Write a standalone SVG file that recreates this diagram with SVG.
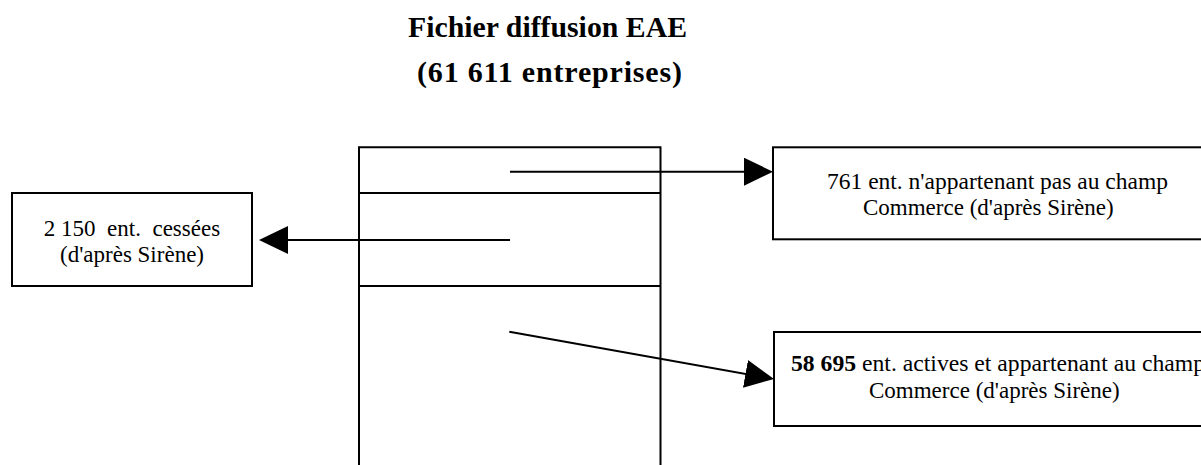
<svg xmlns="http://www.w3.org/2000/svg" width="1201" height="465" viewBox="0 0 1201 465">
  <style>
    .box { fill: #fff; stroke: #000; stroke-width: 2; }
    .frame { fill: none; stroke: #000; stroke-width: 2; }
    .conn { fill: none; stroke: #000; stroke-width: 2; marker-end: url(#arrow); }
    .t { font-family: "Liberation Serif", "Times New Roman", serif; font-size: 23px; fill: #000; }
    .title { font-family: "Liberation Serif", "Times New Roman", serif; font-size: 30px; font-weight: bold; fill: #000; }
    .b { font-weight: bold; }
  </style>
  <defs>
    <marker id="arrow" viewBox="0 0 29 28" markerWidth="29" markerHeight="28" refX="25" refY="14" orient="auto" markerUnits="userSpaceOnUse">
      <path d="M0,0 L29,14 L0,28 Z" fill="#000"/>
    </marker>
  </defs>
  <rect width="1201" height="465" fill="#fff"/>

  <g id="title">
    <text class="title" x="408" y="37" textLength="279" lengthAdjust="spacingAndGlyphs">Fichier diffusion EAE</text>
    <text class="title" x="417" y="82" textLength="265" lengthAdjust="spacing">(61 611 entreprises)</text>
  </g>

  <g id="main-file">
    <path class="frame" d="M359,466 V147.3 H660.5 V466"/>
    <line class="frame" x1="359" y1="193" x2="660.5" y2="193"/>
    <line class="frame" x1="359" y1="286" x2="660.5" y2="286"/>
  </g>

  <g id="node-cessees">
    <rect class="box" x="12" y="193" width="240" height="93"/>
    <text class="t" x="132" y="236" text-anchor="middle" xml:space="preserve">2 150  ent.  cessées</text>
    <text class="t" x="132" y="262" text-anchor="middle">(d'après Sirène)</text>
  </g>

  <g id="node-hors-champ">
    <rect class="box" x="773" y="147.3" width="500" height="92"/>
    <text class="t" x="827" y="189" textLength="341" lengthAdjust="spacingAndGlyphs">761 ent. n'appartenant pas au champ</text>
    <text class="t" x="863" y="215">Commerce (d'après Sirène)</text>
  </g>

  <g id="node-actives">
    <rect class="box" x="774" y="332" width="500" height="94"/>
    <text class="t" x="791" y="371" textLength="414" lengthAdjust="spacingAndGlyphs"><tspan class="b">58 695</tspan> ent. actives et appartenant au champ</text>
    <text class="t" x="869" y="398">Commerce (d'après Sirène)</text>
  </g>

  <g id="connectors">
    <line class="conn" x1="510" y1="171.7" x2="769" y2="171.7"/>
    <line class="conn" x1="510" y1="240" x2="263" y2="240"/>
    <line class="conn" x1="509.3" y1="331.7" x2="770.1" y2="378.3"/>
  </g>
</svg>
